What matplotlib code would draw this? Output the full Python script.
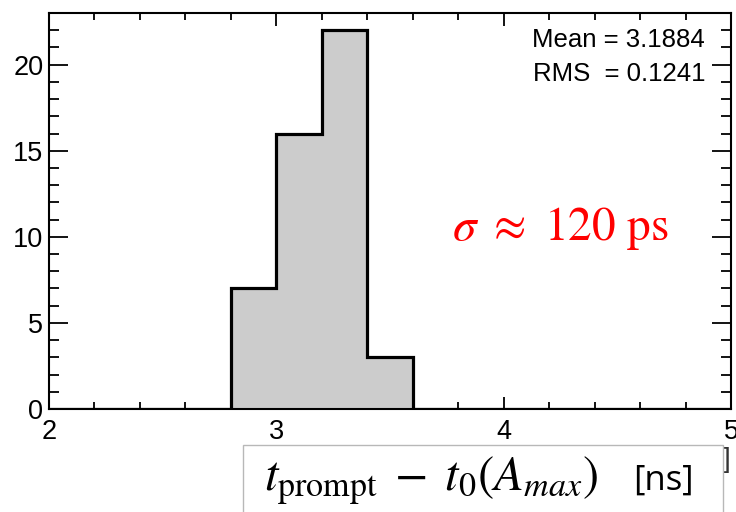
import numpy as np
import matplotlib
matplotlib.use("Agg")
import matplotlib.pyplot as plt
from matplotlib.patches import Rectangle
from matplotlib.ticker import MultipleLocator

plt.rcParams["mathtext.fontset"] = "stix"
plt.rcParams["font.family"] = ["Liberation Sans", "DejaVu Sans"]

# histogram data: time difference, 0.2 ns bins from 2 to 5 ns
bin_edges = np.round(np.arange(2.0, 5.0001, 0.2), 2)
counts = [0, 0, 0, 0, 7, 16, 22, 3, 0, 0, 0, 0, 0, 0, 0]
stat_mean = "3.1884"
stat_rms = "0.1241"
x_ticks = [2, 3, 4, 5]
y_ticks = [0, 5, 10, 15, 20]

fig = plt.figure(figsize=(7.36, 5.12), dpi=100)
ax = fig.add_axes([49 / 736, 1 - 409 / 512, (731 - 49) / 736, (409 - 13) / 512])

ax.stairs(counts, bin_edges, fill=True, facecolor="#cccccc", edgecolor="none",
          baseline=0, zorder=2)
ax.stairs(counts, bin_edges, fill=False, color="black", linewidth=2.3,
          baseline=0, zorder=3)

ax.set_xlim(2, 5)
ax.set_ylim(0, 23)
ax.set_xticks(x_ticks)
ax.set_yticks(y_ticks)
ax.xaxis.set_minor_locator(MultipleLocator(0.2))
ax.yaxis.set_minor_locator(MultipleLocator(1))

for s in ax.spines.values():
    s.set_linewidth(1.5)

ax.tick_params(axis="both", which="both", direction="in", top=True, right=True,
               width=1.3, labelsize=19.5, colors="black")
ax.tick_params(axis="y", which="major", length=13.5, pad=4)
ax.tick_params(axis="y", which="minor", length=7)
ax.tick_params(axis="x", which="major", length=9, pad=7)
ax.tick_params(axis="x", which="minor", length=5)

ax.set_xticklabels([str(v) for v in x_ticks])
ax.set_yticklabels([str(v) for v in y_ticks])

# statistics text
ax.text(0.962, 0.932, f"Mean = {stat_mean}", transform=ax.transAxes,
        ha="right", va="center", fontsize=18.5)
ax.text(0.962, 0.845, f"RMS  = {stat_rms}", transform=ax.transAxes,
        ha="right", va="center", fontsize=18.5)

# resolution annotation
fig.text(560 / 736, 1 - 229 / 512, r"$\sigma\ \approx\ 120\ \mathrm{ps}$",
         color="red", fontsize=34, ha="center", va="center")

# axis title panel
fig.text(727 / 736, 1 - 460 / 512, "]", color="#333333", fontsize=20,
         ha="center", va="center", zorder=1)
box = Rectangle((243 / 736, -0.05), (723 - 243) / 736, 0.05 + 1 - 445 / 512,
                transform=fig.transFigure, facecolor="white",
                edgecolor="#b8b8b8", linewidth=1.0, zorder=5)
fig.add_artist(box)
fig.text(264 / 736, 1 - 490 / 512,
         r"$t_{\mathrm{prompt}}\; - \;t_0(A_{max})$",
         fontsize=35, ha="left", va="baseline", zorder=6)
fig.text(633 / 736, 1 - 490 / 512, "[ns]", fontsize=25,
         family=["Open Sans", "DejaVu Sans"], ha="left", va="baseline", zorder=6)

fig.savefig("out.png", dpi=100)
